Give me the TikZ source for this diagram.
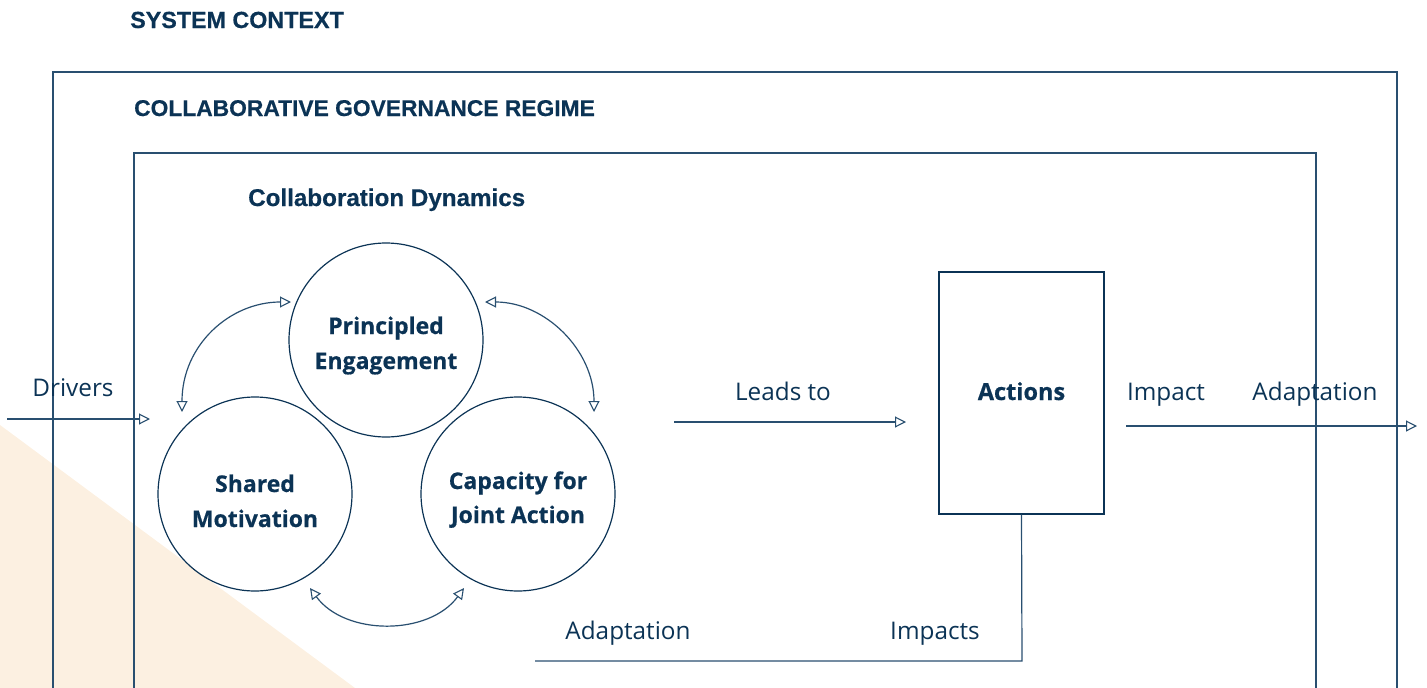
\documentclass[tikz,border=0pt]{standalone}
\usepackage{fontspec}
\usetikzlibrary{arrows.meta}
\setmainfont{Open Sans}
\newfontfamily\titlefont{Liberation Sans Bold}[FakeBold=0.5]
\newfontfamily\labfont{Open Sans}
\newfontfamily\circfont{Open Sans Bold}[FakeBold=0.6]
\definecolor{navy}{HTML}{0B3355}
\definecolor{linec}{HTML}{294F70}
\definecolor{beige}{HTML}{FCF0E1}
\tikzset{
  ln/.style={draw=linec, line width=1.2pt},
  tip/.style={-{Triangle[open, length=11pt, width=11pt, line width=1.1pt]}},
  twotip/.style={{Triangle[open, length=11pt, width=11pt, line width=1.1pt]}-{Triangle[open, length=11pt, width=11pt, line width=1.1pt]}},
  ttl/.style={anchor=base west, inner sep=0pt, text=navy, font=\titlefont\fontsize{23.3}{26}\selectfont},
  circ/.style={circle, draw=navy, line width=1.2pt, minimum size=194pt, inner sep=0pt},
  ctxt/.style={text=navy, font=\circfont\fontsize{23}{35}\selectfont, anchor=base, inner sep=0pt},
  lab/.style={anchor=base, text=navy, font=\labfont\fontsize{24.3}{28}\selectfont, inner sep=0pt}
}
\begin{document}
\begin{tikzpicture}[x=1pt, y=-1pt]
\useasboundingbox (0,0) rectangle (1427,688);
\clip (0,0) rectangle (1427,688);
\fill[beige] (0,425) -- (355,688) -- (0,688) -- cycle;
% frames
\draw[ln] (53,700) -- (53,72) -- (1397,72) -- (1397,700);
\draw[ln] (134,700) -- (134,153) -- (1316,153) -- (1316,700);
% titles
\node[ttl] (sc) at (130,28) {SYSTEM CONTEXT};
\node[ttl, font=\titlefont\fontsize{22.8}{26}\selectfont] (cgr) at (134,116) {COLLABORATIVE GOVERNANCE REGIME};
\node[ttl, font=\titlefont\fontsize{24.2}{28}\selectfont] (cd) at (248,206) {Collaboration Dynamics};
% circles
\node[circ] (pe) at (386,340) {};
\node[circ] (sm) at (255,494) {};
\node[circ] (cj) at (518,494) {};
\node[ctxt] (pe1) at (386,334) {Principled};
\node[ctxt] (pe2) at (386,369) {Engagement};
\node[ctxt] (sm1) at (255,492) {Shared};
\node[ctxt] (sm2) at (255,527) {Motivation};
\node[ctxt] (cj1) at (518,489) {Capacity for};
\node[ctxt] (cj2) at (518,523) {Joint Action};
% arcs
\coordinate (a1) at (182,412);
\coordinate (a2) at (291,302);
\coordinate (b1) at (485,302);
\coordinate (b2) at (594,412);
\coordinate (c1) at (310,588);
\coordinate (c2) at (464,588);
\draw[ln, twotip] (a1) .. controls (182,345) and (230,302) .. (a2);
\draw[ln, twotip] (b1) .. controls (545,302) and (594,350) .. (b2);
\draw[ln, twotip] (c1) .. controls (345,636) and (429,636) .. (c2);
% drivers
\coordinate (d0) at (7,419);
\coordinate (d1) at (150,419);
\draw[ln, tip] (d0) -- (d1);
\node[lab] (drv) at (73,396) {Drivers};
% leads to
\coordinate (l0) at (674,422);
\coordinate (l1) at (906,422);
\draw[ln, tip] (l0) -- (l1);
\node[lab] (lt) at (783,400) {Leads to};
% actions
\node[draw=navy, line width=1.2pt, minimum width=165pt, minimum height=242pt, inner sep=0pt] (act) at (1021.5,393) {};
\node[ctxt, font=\circfont\fontsize{23.5}{28}\selectfont] (actt) at (1021.5,400) {Actions};
% outcome arrow
\coordinate (o0) at (1126,426);
\coordinate (o1) at (1417,426);
\draw[ln, tip] (o0) -- (o1);
\node[lab] (imp) at (1166,400) {Impact};
\node[lab] (ad1) at (1315,400) {Adaptation};
% feedback
\coordinate (f1) at (1022,661);
\coordinate (f2) at (535,661);
\draw[ln] (act.south) -- (f1) -- (f2);
\node[lab] (imps) at (935,639) {Impacts};
\node[lab] (ad2) at (628,639) {Adaptation};
\end{tikzpicture}
\end{document}
